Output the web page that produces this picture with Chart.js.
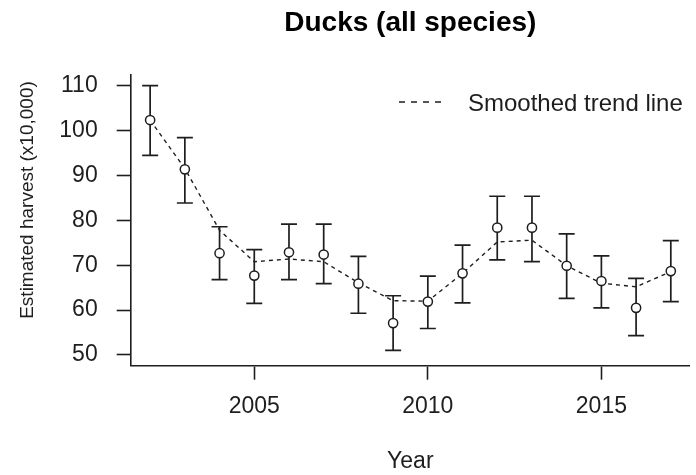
<!DOCTYPE html>
<html>
<head>
<meta charset="utf-8">
<script src="https://cdn.jsdelivr.net/npm/chart.js@4"></script>
<style>
  html, body { margin: 0; padding: 0; background: #fff; overflow: hidden; }
</style>
</head>
<body>
<canvas id="chart" width="696" height="475"></canvas>
<script>
// data
const years = [2002, 2003, 2004, 2005, 2006, 2007, 2008, 2009, 2010, 2011, 2012, 2013, 2014, 2015, 2016, 2017];
const estimates = [102.4, 91.4, 72.7, 67.7, 72.9, 72.4, 65.9, 57.1, 61.9, 68.2, 78.4, 78.4, 69.9, 66.5, 60.5, 68.7];
const upper = [110.1, 98.5, 78.6, 73.5, 79.2, 79.2, 72.0, 63.2, 67.6, 74.5, 85.4, 85.4, 77.0, 72.1, 67.1, 75.5];
const lower = [94.5, 83.9, 66.8, 61.5, 66.8, 65.9, 59.3, 51.0, 55.9, 61.6, 71.2, 70.8, 62.6, 60.5, 54.3, 61.9];
const trend = [102.4, 91.6, 77.8, 70.8, 71.4, 70.8, 66.1, 62.1, 62.0, 68.2, 75.2, 75.6, 69.9, 66.0, 65.2, 68.6];
const xTicks = [2005, 2010, 2015];
const yTicks = [50, 60, 70, 80, 90, 100, 110];

const chartTitle = "Ducks (all species)";
const xTitle = "Year";
const yTitle = "Estimated harvest (x10,000)";
const legendLabel = "Smoothed trend line";

const ink = "#1e1e1e";
const font = "'Liberation Sans', Arial, sans-serif";

// error bars, drawn under the circles
const errorBars = {
  id: "errorBars",
  beforeDatasetsDraw(chart) {
    const { ctx, scales: { x, y } } = chart;
    ctx.save();
    ctx.strokeStyle = ink;
    ctx.lineWidth = 1.7;
    for (let i = 0; i < years.length; i++) {
      const px = x.getPixelForValue(years[i]);
      const top = y.getPixelForValue(upper[i]);
      const bot = y.getPixelForValue(lower[i]);
      ctx.beginPath();
      ctx.moveTo(px, top);
      ctx.lineTo(px, bot);
      ctx.moveTo(px - 8, top);
      ctx.lineTo(px + 8, top);
      ctx.moveTo(px - 8, bot);
      ctx.lineTo(px + 8, bot);
      ctx.stroke();
    }
    ctx.restore();
  },
};

// title, y axis title and legend placed like the R plot
const labels = {
  id: "labels",
  afterDraw(chart) {
    const { ctx, chartArea } = chart;
    ctx.save();
    ctx.fillStyle = "#000";
    ctx.textAlign = "center";
    ctx.textBaseline = "middle";
    ctx.font = `bold 28px ${font}`;
    ctx.fillText(chartTitle, (chartArea.left + chartArea.right) / 2, 23);

    ctx.fillStyle = ink;
    ctx.font = `19px ${font}`;
    ctx.translate(28, 200);
    ctx.rotate(-Math.PI / 2);
    ctx.fillText(yTitle, 0, 0);
    ctx.setTransform(1, 0, 0, 1, 0, 0);

    ctx.strokeStyle = ink;
    ctx.lineWidth = 1.4;
    ctx.setLineDash([6, 6]);
    ctx.beginPath();
    ctx.moveTo(399, 102);
    ctx.lineTo(446, 102);
    ctx.stroke();
    ctx.setLineDash([]);
    ctx.textAlign = "left";
    ctx.font = `24px ${font}`;
    ctx.fillText(legendLabel, 468, 104);
    ctx.restore();
  },
};

const axisLine = { display: true, color: ink, width: 1.6 };

new Chart(document.querySelector("#chart"), {
  type: "line",
  data: {
    datasets: [
      {
        label: "Estimate",
        data: years.map((yr, i) => ({ x: yr, y: estimates[i] })),
        showLine: false,
        pointRadius: 4.6,
        pointBorderWidth: 1.5,
        pointBorderColor: ink,
        pointBackgroundColor: "#fff",
        order: 0,
      },
      {
        label: legendLabel,
        data: years.map((yr, i) => ({ x: yr, y: trend[i] })),
        borderColor: ink,
        borderWidth: 1.4,
        borderDash: [4, 4],
        tension: 0,
        pointRadius: 0,
        order: 1,
      },
    ],
  },
  options: {
    responsive: false,
    devicePixelRatio: 1,
    animation: false,
    layout: { padding: { top: 75, right: 0, bottom: 0, left: 0 } },
    plugins: {
      legend: { display: false },
      tooltip: { enabled: false },
    },
    scales: {
      x: {
        type: "linear",
        min: 2001.44,
        max: 2017.55,
        afterBuildTicks: (scale) => {
          scale.ticks = xTicks.map((v) => ({ value: v }));
        },
        afterFit: (scale) => {
          scale.height = 109.3;
        },
        border: axisLine,
        grid: { drawOnChartArea: false, drawTicks: true, tickLength: 14, tickColor: ink, tickWidth: 1.6 },
        ticks: {
          color: ink,
          font: { family: font, size: 23 },
          padding: 13,
          maxRotation: 0,
          callback: (v) => String(v),
        },
        title: {
          display: true,
          text: xTitle,
          color: ink,
          font: { family: font, size: 23 },
          padding: { top: 0, bottom: 0 },
        },
      },
      y: {
        min: 47.6,
        max: 112.45,
        afterBuildTicks: (scale) => {
          scale.ticks = yTicks.map((v) => ({ value: v }));
        },
        afterFit: (scale) => {
          scale.width = 130.7;
        },
        border: axisLine,
        grid: { drawOnChartArea: false, drawTicks: true, tickLength: 14, tickColor: ink, tickWidth: 1.6 },
        ticks: {
          color: ink,
          font: { family: font, size: 23 },
          padding: 19,
        },
      },
    },
  },
  plugins: [errorBars, labels],
});
</script>
</body>
</html>
